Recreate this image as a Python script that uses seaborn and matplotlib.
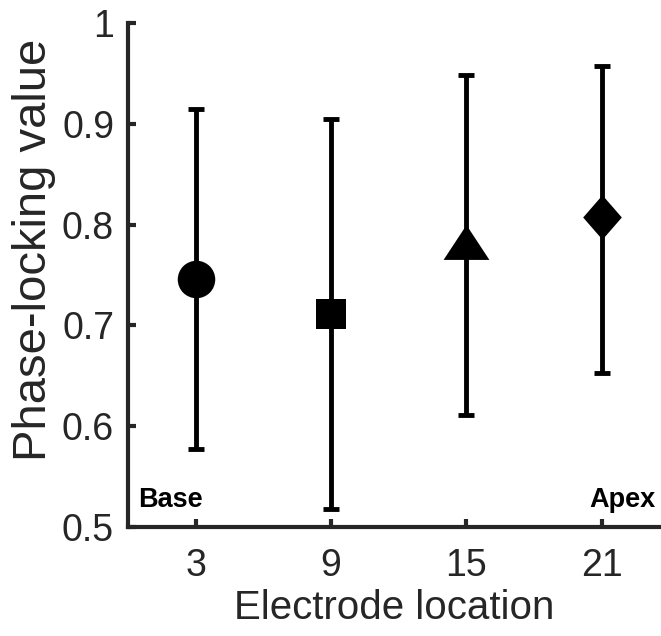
import numpy as np
import pandas as pd
import matplotlib
matplotlib.use("Agg")
from matplotlib import pyplot as plt
from matplotlib.path import Path
import seaborn as sns

electrodes = [3, 9, 15, 21]
plv_mean = [0.746, 0.711, 0.783, 0.808]
plv_upper = [0.915, 0.905, 0.948, 0.957]
plv_lower = [0.577, 0.518, 0.611, 0.653]
shapes = ["circle", "square", "triangle", "diamond"]

df = pd.DataFrame({"electrode": electrodes, "plv": plv_mean, "shape": shapes})

sns.set_style("ticks")
plt.rcParams["font.family"] = ["Liberation Sans", "DejaVu Sans"]

fig = plt.figure(figsize=(6.61, 6.36), dpi=100)
ax = fig.add_axes([128 / 661, 109 / 636, 533 / 661, 504 / 636])

yerr = np.array([np.array(plv_mean) - np.array(plv_lower),
                 np.array(plv_upper) - np.array(plv_mean)])
ax.errorbar(electrodes, plv_mean, yerr=yerr, fmt="none", ecolor="black",
            elinewidth=3.5, capsize=6, capthick=3.5, zorder=2)

tri = Path([(-1, -0.76), (1, -0.76), (0, 0.76), (-1, -0.76)], closed=True)
dia = Path([(0, 1), (0.87, 0), (0, -1), (-0.87, 0), (0, 1)], closed=True)
markers = {"circle": "o", "square": "s", "triangle": tri, "diamond": dia}
sizes = {"circle": 27, "square": 22, "triangle": 33, "diamond": 32}

for shp in shapes:
    sub = df[df["shape"] == shp]
    sns.scatterplot(data=sub, x="electrode", y="plv", marker=markers[shp],
                    s=sizes[shp] ** 2, color="black", edgecolor="black",
                    linewidth=0, ax=ax, zorder=3, legend=False)

ax.set_xlim(0, 23.63)
ax.set_ylim(0.5, 1.0)
ax.set_xticks(electrodes)
ax.set_yticks([0.5, 0.6, 0.7, 0.8, 0.9, 1.0])
ax.set_yticklabels(["0.5", "0.6", "0.7", "0.8", "0.9", "1"])
ax.tick_params(direction="in", length=6, width=3, labelsize=27,
               colors="#262626", pad=10)
ax.tick_params(axis="x", pad=15)
for s in ["left", "bottom"]:
    ax.spines[s].set_linewidth(3)
    ax.spines[s].set_color("#262626")
sns.despine(ax=ax)

ax.set_xlabel("Electrode location", fontsize=29, color="#262626", labelpad=4)
ax.set_ylabel("Phase-locking value", fontsize=34, color="#262626")
ax.yaxis.set_label_coords(-0.135, 0.55)

ax.text(0.43, 0.52, "Base", ha="left", va="baseline", fontsize=19.5,
        fontweight="bold", color="black")
ax.text(23.39, 0.52, "Apex", ha="right", va="baseline", fontsize=19.5,
        fontweight="bold", color="black")

fig.savefig("out.png", dpi=100)
